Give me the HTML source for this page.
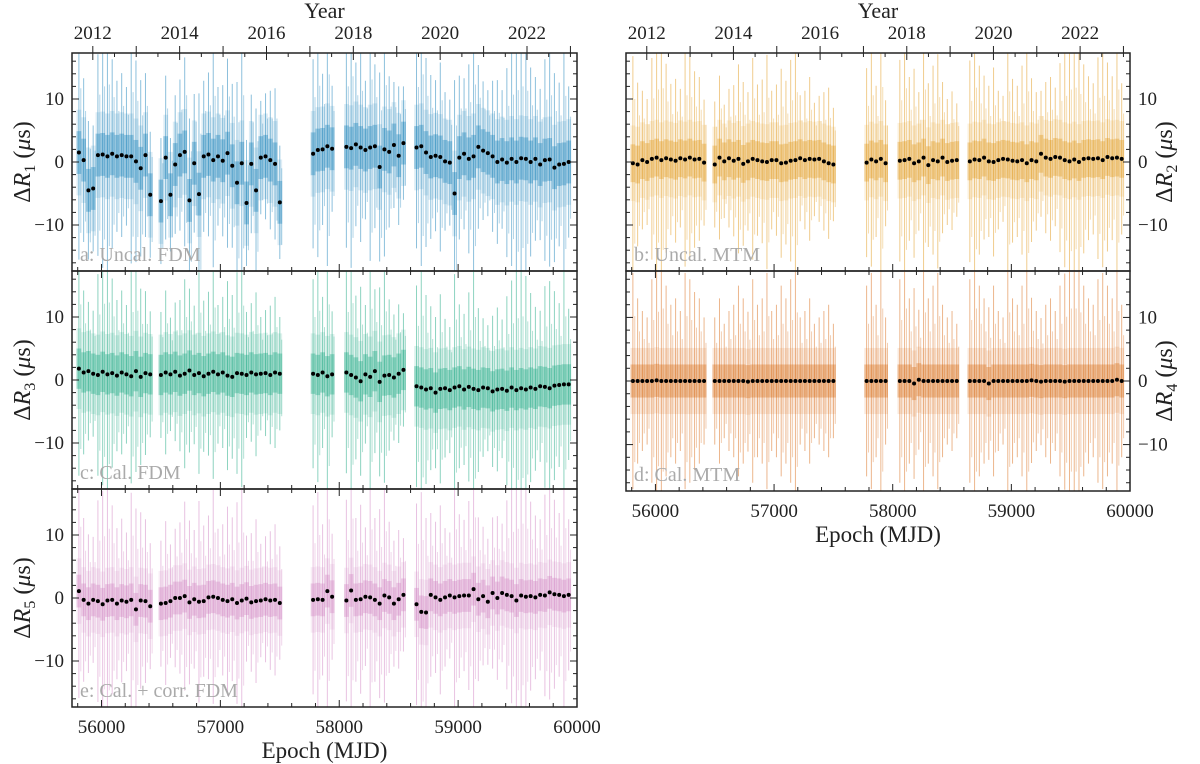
<!DOCTYPE html>
<html><head><meta charset="utf-8">
<style>
html,body{margin:0;padding:0;background:#fff;}
svg{display:block;font-family:"Liberation Serif","DejaVu Serif",serif;}
</style></head>
<body>
<svg id="chart" width="1200" height="764" viewBox="0 0 1200 764" xmlns="http://www.w3.org/2000/svg"></svg>
<script>
// ---- data ----
const epochs = [55810,55850,55890,55930,55970,56010,56050,56090,56130,56170,56210,56250,56290,56330,56370,56410,
56500,56540,56580,56620,56660,56700,56740,56780,56820,56860,56900,56940,56980,57020,57060,57100,57140,57180,57220,57260,57300,57340,57380,57420,57460,57500,
57780,57820,57860,57900,57940,
58060,58100,58140,58180,58220,58260,58300,58340,58380,58420,58460,58500,58540,
58650,58690,58730,58770,58810,58850,58890,58930,58970,59010,59050,59090,59130,59170,59210,59250,59290,59330,59370,59410,59450,59490,59530,59570,59610,59650,59690,59730,59770,59810,59850,59890,59930];
const reach = [17,13,11,10,16,18,19,15,12,13,11,17,16,14,13,10,
10,13,9,11,12,15,13,11,16,12,13,17,11,12,15,13,16,18,10,11,13,9,10,11,12,9,
15,17,12,19,10,
16,19,13,15,11,18,13,15,17,12,10,11,9,
16,19,15,13,12,15,11,10,18,13,12,15,19,13,11,10,12,13,11,15,17,19,19,18,15,13,12,16,17,15,13,18,12];
const meanA = [1.5,0.3,-4.5,-4.2,1.1,1.2,0.9,1.3,0.9,1.1,0.9,0.9,0.1,-1.0,1.1,-5.2,
-6.2,0.7,-5.2,-0.4,1.1,1.6,-6.1,-0.2,-5.1,0.9,1.2,0.3,0.9,0.2,1.4,-0.6,-3.3,-0.2,-6.5,-0.3,-4.5,0.7,0.9,0.3,-0.3,-6.4,
1.3,1.9,2.0,2.5,2.1,
2.4,2.2,2.8,2.3,1.9,2.3,2.5,-0.8,2.0,1.6,2.7,1.0,3.0,
2.3,2.5,1.5,0.8,1.0,0.8,0.1,-0.1,-5.0,0.7,1.3,0.5,0.9,2.4,1.8,1.4,0.9,0.0,0.4,-0.1,0.5,0.0,0.6,0.5,0.0,0.5,-0.4,0.3,0.4,-0.9,-0.4,-0.3,0.0];
const meanB = [-0.2,-0.4,0.3,0.0,0.5,0.7,0.3,0.6,0.4,0.2,0.6,0.4,0.7,0.4,0.5,-0.1,
-0.4,0.7,0.1,0.6,0.2,0.5,-0.3,0.1,0.5,0.3,0.1,0.0,0.3,0.3,-0.2,-0.1,0.2,0.3,0.6,0.3,0.5,0.4,0.5,0.1,-0.2,-0.4,
-0.1,0.4,0.1,0.5,-0.2,
0.2,0.3,0.5,-0.2,0.1,0.7,-0.5,0.3,0.1,0.7,0.0,0.2,0.3,
0.1,0.4,0.3,0.7,0.1,0.0,0.3,0.5,0.4,0.2,0.1,0.3,-0.2,0.3,0.1,1.3,0.7,0.5,0.8,0.7,0.3,0.1,0.4,0.0,0.5,0.6,0.5,0.6,0.3,0.8,0.6,0.7,0.5];
const meanC = [1.8,1.2,1.4,1.0,0.8,1.3,0.9,1.1,0.7,1.2,0.9,0.6,1.4,0.5,1.1,0.9,
0.8,1.2,0.9,1.3,0.7,1.0,1.5,0.8,1.1,0.6,1.0,1.3,0.9,1.2,0.7,0.5,1.1,1.0,0.8,1.2,0.9,1.0,1.1,0.8,1.2,1.0,
1.0,0.8,1.2,0.6,0.9,
1.2,0.8,0.4,-0.2,0.9,0.5,1.4,-0.3,0.7,0.8,0.4,1.0,1.6,
-1.0,-1.2,-1.5,-1.3,-2.0,-1.4,-1.3,-1.6,-1.2,-1.0,-1.5,-1.1,-1.4,-1.6,-1.2,-1.3,-1.8,-1.5,-1.4,-1.7,-1.2,-1.6,-1.3,-1.5,-1.2,-1.4,-1.0,-1.1,-1.3,-0.9,-0.8,-0.7,-0.7];
const meanD = [0.0,0.0,0.0,0.0,0.0,0.1,0.0,0.0,0.0,0.0,0.0,0.0,0.0,0.0,0.0,0.0,
0.0,0.0,0.0,0.0,0.0,0.0,0.0,-0.1,0.0,0.0,0.0,0.0,0.0,0.0,0.0,0.0,0.0,0.0,0.0,0.0,0.0,0.0,0.0,0.0,0.0,0.0,
0.0,0.0,0.0,0.0,0.0,
0.0,0.0,0.0,-0.4,0.2,0.0,0.0,0.0,0.0,0.0,0.0,0.0,0.0,
0.0,0.0,0.0,0.0,-0.4,0.0,0.0,0.0,0.0,0.0,0.0,0.0,0.0,0.1,0.0,-0.1,0.0,0.0,0.0,0.0,-0.1,0.0,0.0,0.0,0.0,0.0,0.0,0.0,0.0,0.0,0.0,0.2,0.0];
const meanE = [1.1,-0.3,-0.9,-0.3,-0.5,-1.0,-0.4,-0.3,-0.9,-0.4,-0.6,-0.3,-1.8,-0.4,-0.5,-1.3,
-0.9,-0.8,-0.5,0.0,0.0,0.3,-0.7,-0.2,-0.6,-0.5,0.1,0.2,0.0,-0.3,-0.5,-0.2,-0.8,-0.4,-0.1,-0.7,-0.5,-0.4,-0.2,-0.4,-0.3,-0.8,
-0.3,-0.2,-0.3,1.1,0.2,
-0.4,1.2,-0.3,-0.2,0.2,0.1,-0.3,-0.9,0.4,0.1,-0.9,-0.2,0.5,
-1.0,-2.2,-2.3,0.5,0.1,-0.3,0.1,0.4,0.1,0.3,0.4,0.4,1.4,-0.2,0.3,-0.6,0.8,0.0,0.8,0.5,0.3,-0.4,0.4,0.2,0.3,0.1,0.5,0.4,0.9,0.6,0.5,0.3,0.5];
const xTicks = [56000,57000,58000,59000,60000];
const yTicks = [-10,0,10];
const yearTicks = [2012,2014,2016,2018,2020,2022];

// ---- layout ----
const svg = document.getElementById('chart');
const NS = 'http://www.w3.org/2000/svg';
const XMIN = 55752, XMAX = 60000, YLIM = 17.3;
function mk(tag, attrs, parent){ const e=document.createElementNS(NS,tag); for(const k in attrs) e.setAttribute(k,attrs[k]); (parent||svg).appendChild(e); return e; }

const panels = [
 {id:'a', L:72, R:577, T:53, B:271, col:'#0173b2', mean:meanA, core:3.4, lab:'a: Uncal. FDM', sub:'1', side:'left', top:true, bottom:false},
 {id:'c', L:72, R:577, T:271, B:489, col:'#029e73', mean:meanC, core:3.2, lab:'c: Cal. FDM', sub:'3', side:'left', top:false, bottom:false},
 {id:'e', L:72, R:577, T:489, B:707, col:'#cc78bc', mean:meanE, core:2.6, lab:'e: Cal. + corr. FDM', sub:'5', side:'left', top:false, bottom:true},
 {id:'b', L:626, R:1130, T:53, B:271, col:'#de8f05', mean:meanB, core:3.0, lab:'b: Uncal. MTM', sub:'2', side:'right', top:true, bottom:false},
 {id:'d', L:626, R:1130, T:271, B:491, col:'#d55e00', mean:meanD, core:2.6, lab:'d: Cal. MTM', sub:'4', side:'right', top:false, bottom:true}
];

panels.forEach(p=>{
  const g = mk('g',{});
  
  
  const xs = v => p.L + (v-XMIN)/(XMAX-XMIN)*(p.R-p.L);
  const ys = v => (p.T+p.B)/2 - v/YLIM*((p.B-p.T)/2);
  const cid='clip'+p.id;
  const cp = mk('clipPath',{id:cid},g); mk('rect',{x:p.L,y:p.T,width:p.R-p.L,height:p.B-p.T},cp);
  const dg = mk('g',{'clip-path':'url(#'+cid+')'},g);
  const bw = 40/(XMAX-XMIN)*(p.R-p.L);
  epochs.forEach((t,i)=>{
    const m = p.mean[i];
    const o = mk('rect',{x:xs(t)-bw/2,width:bw,y:ys(m+p.core*2),height:ys(-p.core*2)-ys(p.core*2),fill:p.col,'fill-opacity':0.13},dg);
    
    
    const c = mk('rect',{x:xs(t)-bw/2,width:bw,y:ys(m+p.core),height:ys(-p.core)-ys(p.core),fill:p.col,'fill-opacity':0.32},dg);
    
    
    const w = mk('line',{x1:xs(t),x2:xs(t),y1:ys(m+reach[i]),y2:ys(m-reach[i]),stroke:p.col,'stroke-width':1,'stroke-opacity':0.45},dg);
    
    
    const w2 = mk('line',{x1:xs(t)+bw*0.4,x2:xs(t)+bw*0.4,y1:ys(m+reach[i]*0.6),y2:ys(m-reach[i]*0.75),stroke:p.col,'stroke-width':1,'stroke-opacity':0.3},dg);
    
    
  });
  epochs.forEach((t,i)=>{
    const d = mk('circle',{cx:xs(t),cy:ys(p.mean[i]),r:2,fill:'#000'},dg);
    
    
  });
  const lt = mk('text',{x:p.L+8,y:p.B-10,'font-size':20,fill:'#aaa'},g);
  lt.textContent = p.lab;
  
  
  const fr = mk('rect',{x:p.L,y:p.T,width:p.R-p.L,height:p.B-p.T,fill:'none',stroke:'#222','stroke-width':1.5},g);
  
  
  for(let v=55800; v<=XMAX; v+=200){
    const maj = v%1000===0, len = maj?7:4;
    mk('line',{x1:xs(v),x2:xs(v),y1:p.B,y2:p.B-len,stroke:'#222','stroke-width':1},g);
    if(!p.top) mk('line',{x1:xs(v),x2:xs(v),y1:p.T,y2:p.T+len,stroke:'#222','stroke-width':1},g);
  }
  if(p.bottom){
    xTicks.forEach(v=>{
      const t = mk('text',{x:xs(v),y:p.B+26,'font-size':19,'text-anchor':'middle',fill:'#222'},g);
      t.textContent = v;
      
      
    });
    const xt = mk('text',{x:(p.L+p.R)/2,y:p.B+51,'font-size':23,'text-anchor':'middle',fill:'#222'},g);
    xt.textContent = 'Epoch (MJD)';
    
    
  }
  if(p.top){
    for(let y=2011.5; y<=2023; y+=0.5){
      const v = 55927 + (y-2012)*365.25;
      if(v<XMIN||v>XMAX) continue;
      const maj = (y%2===0);
      mk('line',{x1:xs(v),x2:xs(v),y1:p.T,y2:p.T+(maj?7:4),stroke:'#222','stroke-width':1},g);
      if(y%1===0 && !maj) mk('line',{x1:xs(v),x2:xs(v),y1:p.T,y2:p.T-7,stroke:'#222','stroke-width':1},g);
    }
    yearTicks.forEach(y=>{
      const v = 55927 + (y-2012)*365.25;
      mk('line',{x1:xs(v),x2:xs(v),y1:p.T,y2:p.T-7,stroke:'#222','stroke-width':1},g);
      const t = mk('text',{x:xs(v),y:p.T-14,'font-size':19,'text-anchor':'middle',fill:'#222'},g);
      t.textContent = y;
      
      
    });
    const yt = mk('text',{x:(p.L+p.R)/2,y:18,'font-size':22,'text-anchor':'middle',fill:'#222'},g);
    yt.textContent = 'Year';
    
    
  }
  for(let v=-16; v<=16; v+=2){
    const maj = v%10===0, len = maj?7:4;
    mk('line',{x1:p.L,x2:p.L+len,y1:ys(v),y2:ys(v),stroke:'#222','stroke-width':1},g);
    mk('line',{x1:p.R,x2:p.R-len,y1:ys(v),y2:ys(v),stroke:'#222','stroke-width':1},g);
  }
  yTicks.forEach(v=>{
    const left = p.side==='left';
    const t = mk('text',{x:left?p.L-8:p.R+8,y:ys(v)+6,'font-size':19,'text-anchor':left?'end':'start',fill:'#222'},g);
    t.textContent = v<0 ? '\u2212'+Math.abs(v) : String(v);
    
    
  });
  const ax = p.side==='left' ? 30 : 1172, ay=(p.T+p.B)/2;
  const yl = mk('text',{x:ax,y:ay,'font-size':24,'text-anchor':'middle',fill:'#222',transform:'rotate(-90 '+ax+' '+ay+')'},g);
  yl.innerHTML = '\u0394<tspan font-style="italic">R</tspan><tspan font-size="16" dy="5">'+p.sub+'</tspan><tspan dy="-5"> (</tspan><tspan font-style="italic">\u03bc</tspan>s)';
  
  
});
</script>
</body></html>
